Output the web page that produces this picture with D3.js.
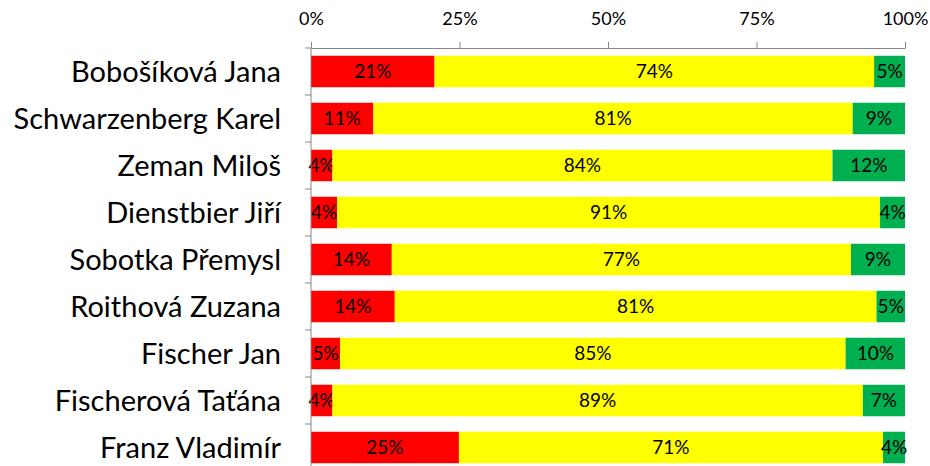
<!DOCTYPE html>
<meta charset="utf-8">
<style>
body { margin: 0; background: #fff; }
text { font-family: Lato, "Open Sans", sans-serif; fill: #000; }
.cat text { font-size: 29px; }
.axis text { font-size: 18px; }
.lbl { font-size: 19px; text-anchor: middle; }
.axis path, .axis line { stroke: #868686; }
</style>
<svg width="930" height="466"></svg>
<script src="https://d3js.org/d3.v7.min.js"></script>
<script>

var candidates = ["Bobošíková Jana", "Schwarzenberg Karel", "Zeman Miloš", "Dienstbier Jiří",
  "Sobotka Přemysl", "Roithová Zuzana", "Fischer Jan", "Fischerová Taťána", "Franz Vladimír"];
// shares in %
var red    = [20.8, 10.5, 3.6, 4.4, 13.6, 14.1, 4.9, 3.6, 24.9];
var yellow = [74.0, 80.7, 84.2, 91.4, 77.3, 81.1, 85.1, 89.3, 71.4];
var green  = [5.2, 8.8, 12.2, 4.2, 9.1, 4.8, 10.0, 7.1, 3.7];
var tickValues = [0, 25, 50, 75, 100];

var seriesKeys = ["red", "yellow", "green"];
var colors = { red: "#ff0000", yellow: "#ffff00", green: "#00b050" };

var rows = candidates.map(function(c, i) {
  return { name: c, red: red[i], yellow: yellow[i], green: green[i] };
});

var svg = d3.select("svg"),
    x0 = 311, x1 = 905, y0 = 48, y1 = 471;

var x = d3.scaleLinear().domain([0, 100]).range([x0, x1]);
var y = d3.scaleBand().domain(candidates).range([y0, y1])
    .paddingInner(0.33).paddingOuter(0.165);

var stack = d3.stack().keys(seriesKeys)(rows);

var g = svg.selectAll(".series")
  .data(stack)
  .enter().append("g")
    .attr("class", "series")
    .attr("fill", function(d) { return colors[d.key]; });

g.selectAll("rect")
  .data(function(d) { return d; })
  .enter().append("rect")
    .attr("x", function(d) { return x(d[0]); })
    .attr("y", function(d) { return y(d.data.name); })
    .attr("width", function(d) { return x(d[1]) - x(d[0]); })
    .attr("height", y.bandwidth());

g.selectAll(".lbl")
  .data(function(d) { return d; })
  .enter().append("text")
    .attr("class", "lbl")
    .attr("x", function(d) { return (x(d[0]) + x(d[1])) / 2; })
    .attr("y", function(d) { return y(d.data.name) + y.bandwidth() / 2; })
    .attr("dy", "0.36em")
    .text(function(d) { return Math.round(d[1] - d[0]) + "%"; });

// top axis
svg.append("g")
    .attr("class", "axis")
    .attr("transform", "translate(0," + y0 + ")")
    .call(d3.axisTop(x).tickValues(tickValues).tickSize(6).tickSizeOuter(0)
      .tickFormat(function(d) { return d + "%"; }))
    .call(function(a) { a.selectAll("text").attr("y", -23).attr("dy", "0"); });

// left axis line + ticks between categories
var la = svg.append("g").attr("class", "axis");
la.append("line")
    .attr("x1", x0).attr("x2", x0)
    .attr("y1", y0).attr("y2", y1);
la.selectAll(".tk")
  .data(d3.range(candidates.length + 1))
  .enter().append("line")
    .attr("x1", x0 - 6).attr("x2", x0)
    .attr("y1", function(i) { return y0 + i * y.step(); })
    .attr("y2", function(i) { return y0 + i * y.step(); });

svg.append("g")
    .attr("class", "cat")
  .selectAll("text")
  .data(candidates)
  .enter().append("text")
    .attr("x", 281)
    .attr("y", function(d) { return y(d) + y.bandwidth() / 2; })
    .attr("dy", "0.35em")
    .attr("text-anchor", "end")
    .text(function(d) { return d; });

</script>
